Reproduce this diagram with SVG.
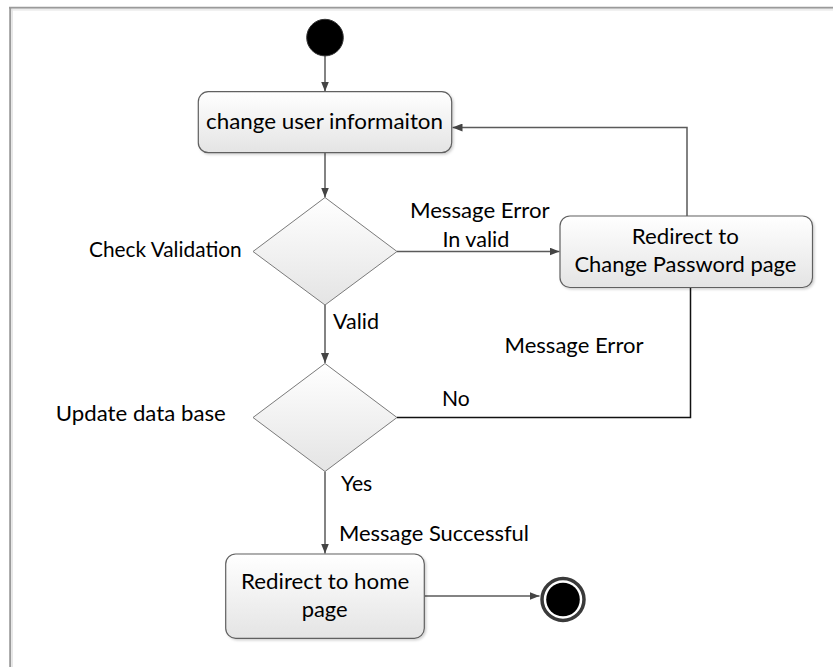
<svg xmlns="http://www.w3.org/2000/svg" width="833" height="667" viewBox="0 0 833 667">
  <style>
    text { font-family: Lato, "Liberation Sans", sans-serif; font-size: 21.5px; fill: #000; }
    .box { fill: url(#shade); stroke: #606060; stroke-width: 1.2; filter: url(#soft); }
    .dia { fill: url(#shade); stroke: #7a7a7a; stroke-width: 1; }
    .flow { fill: none; stroke: #5a5a5a; stroke-width: 1.5; }
    .flow.arrow { marker-end: url(#head); }
    .dark { stroke: #111; }
  </style>
  <defs>
    <linearGradient id="shade" x1="0" y1="0" x2="0" y2="1">
      <stop offset="0" stop-color="#ffffff"/>
      <stop offset="1" stop-color="#e4e4e4"/>
    </linearGradient>
    <filter id="soft" x="-10%" y="-10%" width="125%" height="130%">
      <feDropShadow dx="1.5" dy="1.5" stdDeviation="1" flood-color="#000" flood-opacity="0.18"/>
    </filter>
    <marker id="head" viewBox="0 0 10 8" refX="10" refY="4" markerWidth="10" markerHeight="8" markerUnits="userSpaceOnUse" orient="auto">
      <path d="M0,0 L10,4 L0,8 Z" fill="#444"/>
    </marker>
  </defs>

  <!-- outer frame edges -->
  <g id="frame">
    <line x1="9" y1="7.7" x2="833" y2="7.7" stroke="#9a9a9a" stroke-width="2"/>
    <line x1="11" y1="9.8" x2="833" y2="9.8" stroke="#ececec" stroke-width="2"/>
    <line x1="10.2" y1="7" x2="10.2" y2="667" stroke="#9a9a9a" stroke-width="2"/>
    <line x1="12.2" y1="9" x2="12.2" y2="667" stroke="#e6e6e6" stroke-width="1.5"/>
  </g>

  <!-- connectors -->
  <g id="connectors">
    <path class="flow arrow" d="M325,56 V91.5"/>
    <path class="flow arrow" d="M325,153 V197.5"/>
    <path class="flow arrow" d="M397,251.5 H559.5"/>
    <path class="flow arrow" d="M687,216 V127.5 H452.5"/>
    <path class="flow arrow" d="M325,305 V363"/>
    <path class="flow dark" d="M397,417.5 H690.5 V288"/>
    <path class="flow arrow" d="M325,471.5 V553.5"/>
    <path class="flow arrow" d="M424.5,596 H539.5"/>
  </g>

  <!-- edge labels -->
  <g id="labels">
    <text x="409.9" y="218.3" textLength="139.7" lengthAdjust="spacingAndGlyphs">Message Error</text>
    <text x="442.4" y="246.7" textLength="67" lengthAdjust="spacingAndGlyphs">In valid</text>
    <text x="333" y="329">Valid</text>
    <text x="504.5" y="352.7" textLength="139" lengthAdjust="spacingAndGlyphs">Message Error</text>
    <text x="442" y="406" textLength="27.7" lengthAdjust="spacingAndGlyphs">No</text>
    <text x="341" y="491" textLength="31.3" lengthAdjust="spacingAndGlyphs">Yes</text>
    <text x="339" y="540.7" textLength="190" lengthAdjust="spacingAndGlyphs">Message Successful</text>
  </g>

  <g id="start">
    <circle cx="325" cy="37.6" r="18.3" fill="#000" stroke="#333" stroke-width="1"/>
  </g>

  <g id="change-info">
    <rect class="box" x="198.3" y="91.7" width="253.4" height="61" rx="10"/>
    <text x="206" y="129.3" textLength="237" lengthAdjust="spacingAndGlyphs">change user informaiton</text>
  </g>

  <g id="check-validation">
    <polygon class="dia" points="325,197.5 397,251.5 325,305 253,251.5"/>
    <text x="89" y="257.3" textLength="152.7" lengthAdjust="spacingAndGlyphs">Check Validation</text>
  </g>

  <g id="redirect-password">
    <rect class="box" x="560" y="216" width="252.5" height="71.5" rx="10"/>
    <text x="631.8" y="244.3" textLength="107" lengthAdjust="spacingAndGlyphs">Redirect to</text>
    <text x="574.4" y="271.7" textLength="222" lengthAdjust="spacingAndGlyphs">Change Password page</text>
  </g>

  <g id="update-db">
    <polygon class="dia" points="325,363.5 397,417.5 325,471.5 253,417.5"/>
    <text x="55.8" y="420.7" textLength="170" lengthAdjust="spacingAndGlyphs">Update data base</text>
  </g>

  <g id="redirect-home">
    <rect class="box" x="225.7" y="554" width="198.6" height="84.3" rx="10"/>
    <text x="241" y="588.7" textLength="168.3" lengthAdjust="spacingAndGlyphs">Redirect to home</text>
    <text x="301.7" y="616.5" textLength="46" lengthAdjust="spacingAndGlyphs">page</text>
  </g>

  <g id="end">
    <circle cx="563" cy="599.5" r="21" fill="#fff" stroke="#3a3a3a" stroke-width="3.5"/>
    <circle cx="563" cy="599.5" r="16.8" fill="#000"/>
  </g>
</svg>
